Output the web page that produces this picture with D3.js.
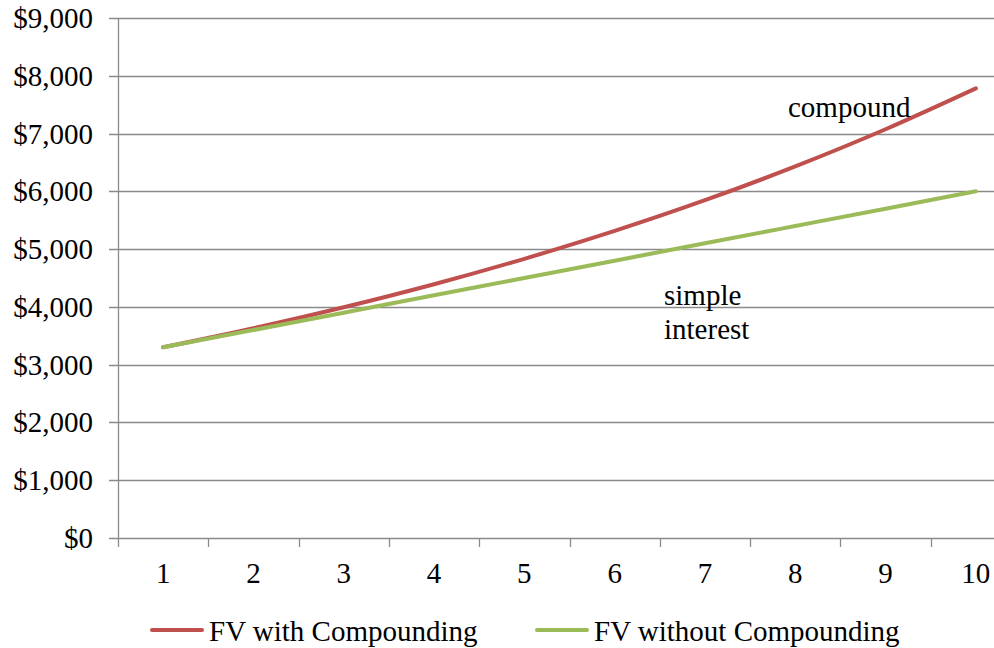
<!DOCTYPE html>
<html>
<head>
<meta charset="utf-8">
<script src="https://cdn.jsdelivr.net/npm/d3@7"></script>
<style>
  html, body { margin: 0; padding: 0; background: #fff; }
</style>
</head>
<body>
<svg id="chart" width="994" height="648"></svg>
<script>
// Future value of $3,000 at 10% over 10 years
const years = ["1", "2", "3", "4", "5", "6", "7", "8", "9", "10"];
const fvCompound = [3300, 3630, 3993, 4392, 4832, 5315, 5846, 6431, 7074, 7781];
const fvSimple = [3300, 3600, 3900, 4200, 4500, 4800, 5100, 5400, 5700, 6000];
const yTicks = [0, 1000, 2000, 3000, 4000, 5000, 6000, 7000, 8000, 9000];
const seriesNames = ["FV with Compounding", "FV without Compounding"];
const seriesColors = ["#C0504D", "#9BBB59"];

const svg = d3.select("#chart")
  .attr("font-family", "'Liberation Serif', 'Times New Roman', Times, serif");
const plotLeft = 118, plotTop = 18, plotBottom = 538, plotRight = 1021;

const x = d3.scaleBand().domain(years).range([plotLeft, plotRight]).padding(0);
const y = d3.scaleLinear().domain([0, 9000]).range([plotBottom, plotTop]);

const gridColor = "#8a8a8a";
const fontSize = 29;

// horizontal gridlines with outward tick stubs
svg.append("g").selectAll("line").data(yTicks).join("line")
  .attr("x1", plotLeft - 9).attr("x2", plotRight)
  .attr("y1", d => Math.round(y(d)) + 0.5).attr("y2", d => Math.round(y(d)) + 0.5)
  .attr("stroke", gridColor).attr("stroke-width", 1.3);

// y axis line
svg.append("line")
  .attr("x1", plotLeft + 0.5).attr("x2", plotLeft + 0.5)
  .attr("y1", plotTop).attr("y2", plotBottom + 9)
  .attr("stroke", gridColor).attr("stroke-width", 1.3);

// x category boundary ticks
const bounds = years.map(d => x(d)).concat([plotRight]).slice(1);
svg.append("g").selectAll("line").data(bounds).join("line")
  .attr("x1", d => Math.round(d) + 0.5).attr("x2", d => Math.round(d) + 0.5)
  .attr("y1", plotBottom).attr("y2", plotBottom + 9)
  .attr("stroke", gridColor).attr("stroke-width", 1.3);

const fmt = d3.format("$,");
svg.append("g").selectAll("text").data(yTicks).join("text")
  .attr("x", 93).attr("y", d => y(d) + 10)
  .attr("text-anchor", "end")
  .attr("font-size", fontSize).attr("fill", "#000")
  .text(d => fmt(d));

svg.append("g").selectAll("text").data(years).join("text")
  .attr("x", d => x(d) + x.bandwidth() / 2).attr("y", 583)
  .attr("text-anchor", "middle")
  .attr("font-size", fontSize).attr("fill", "#000")
  .text(d => d);

const line = d3.line()
  .x((d, i) => x(years[i]) + x.bandwidth() / 2)
  .y(d => y(d))
  .curve(d3.curveMonotoneX);

[fvCompound, fvSimple].forEach((vals, i) => {
  svg.append("path")
    .datum(vals)
    .attr("d", line)
    .attr("fill", "none")
    .attr("stroke", seriesColors[i])
    .attr("stroke-width", 4)
    .attr("stroke-linecap", "round")
    .attr("stroke-linejoin", "round");
});

// annotations
svg.append("text").attr("x", 788).attr("y", 117).attr("font-size", fontSize).text("compound");
svg.append("text").attr("x", 664).attr("y", 305).attr("font-size", fontSize).text("simple");
svg.append("text").attr("x", 664).attr("y", 339).attr("font-size", fontSize).text("interest");

// legend
const legendX = [150, 535];
seriesNames.forEach((name, i) => {
  const g = svg.append("g").attr("transform", `translate(${legendX[i]},630)`);
  g.append("line").attr("x1", 2).attr("x2", 52).attr("y1", 0).attr("y2", 0)
    .attr("stroke", seriesColors[i]).attr("stroke-width", 4).attr("stroke-linecap", "round");
  g.append("text").attr("x", 59).attr("y", 11).attr("font-size", fontSize).text(name);
});
</script>
</body>
</html>
